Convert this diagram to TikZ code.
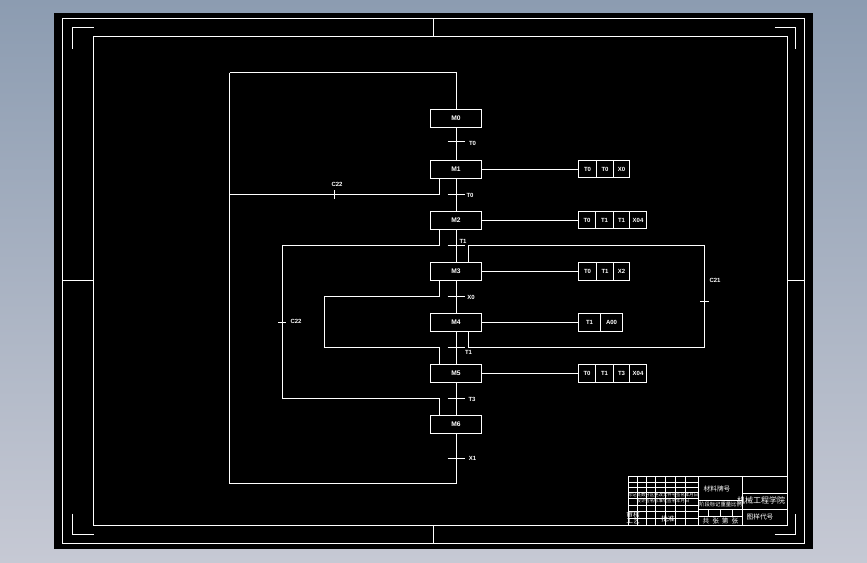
\documentclass[tikz,border=0pt]{standalone}
\usepackage{fontspec}
\setmainfont{Liberation Sans}
\newfontfamily\cjk{Noto Sans CJK SC}
\definecolor{bgtop}{HTML}{8C9CB1}
\definecolor{bgbot}{HTML}{C6C9D4}
\tikzset{
  lin/.style={draw=white,line width=0.75pt},
  stepbox/.style={draw=white,line width=0.75pt,outer sep=0pt,minimum width=38.25pt,minimum height=13.5pt,inner sep=0pt,text=white,font=\bfseries\fontsize{5}{5}\selectfont},
  cell/.style={draw=white,line width=0.75pt,outer sep=0pt,minimum height=12.75pt,inner sep=0pt,text=white,anchor=west,font=\bfseries\fontsize{4.5}{5}\selectfont},
  cw/.style={minimum width=#1*0.75pt},
  lab/.style={text=white,inner sep=0pt,font=\bfseries\fontsize{4.5}{5}\selectfont},
  tb/.style={text=white,inner sep=0pt,font=\cjk\fontsize{5}{5}\selectfont},
  tbs/.style={text=white,inner sep=0pt,font=\cjk\fontsize{3.3}{4}\selectfont},
  tbm/.style={text=white,inner sep=0pt,font=\cjk\fontsize{4}{5}\selectfont},
  tbl/.style={text=white,inner sep=0pt,font=\cjk\fontsize{6}{6}\selectfont}
}
\begin{document}
\begin{tikzpicture}[x=0.75pt,y=-0.75pt]
\useasboundingbox (0,0) rectangle (867,562);
\shade[top color=bgtop,bottom color=bgbot] (0,0) rectangle (867,562);
\fill[black] (54,13) rectangle (813,549);
% frames
\draw[lin] (62.5,18.5) rectangle (804.5,543.5);
\draw[lin] (93.5,36.5) rectangle (787.5,525.5);
\draw[lin] (72.5,48.5) |- (93.5,27.5);
\draw[lin] (774.5,27.5) -| (795.5,48.5);
\draw[lin] (72.5,513.5) |- (93.5,534.5);
\draw[lin] (774.5,534.5) -| (795.5,513.5);
\draw[lin] (433.5,18.5) -- (433.5,36.5);
\draw[lin] (433.5,525.5) -- (433.5,543.5);
\draw[lin] (62.5,280.5) -- (93.5,280.5);
\draw[lin] (787.5,280.5) -- (804.5,280.5);
% step boxes
\node[stepbox] (s0) at (456,118.5) {M0};
\node[stepbox] (s1) at (456,169.5) {M1};
\node[stepbox] (s2) at (456,220.5) {M2};
\node[stepbox] (s3) at (456,271.5) {M3};
\node[stepbox] (s4) at (456,322.5) {M4};
\node[stepbox] (s5) at (456,373.5) {M5};
\node[stepbox] (s6) at (456,424.5) {M6};
% main line
\coordinate (top) at (456.5,72.5);
\coordinate (bot) at (456.5,483.5);
\coordinate (tl) at (229.5,72.5);
\coordinate (bl) at (229.5,483.5);
\draw[lin] (tl) -- (top) -- (s0.north -| top);
\draw[lin] (tl) -- (bl) -- (bot) -- (s6.south -| bot);
\foreach \a/\b in {s0/s1,s1/s2,s2/s3,s3/s4,s4/s5,s5/s6}
  \draw[lin] (\a.south -| top) -- (\b.north -| top);
% left branches
\coordinate (a1) at (439.5,194.5);
\draw[lin] (s1.south -| a1) -- (a1) -- (a1 -| tl);
\coordinate (a2) at (439.5,245.5);
\coordinate (a3) at (282.5,245.5);
\coordinate (a4) at (282.5,398.5);
\coordinate (a5) at (439.5,398.5);
\draw[lin] (s2.south -| a2) -- (a2) -- (a3) -- (a4) -- (a5) -- (s6.north -| a5);
\coordinate (b1) at (439.5,296.5);
\coordinate (b2) at (324.5,296.5);
\coordinate (b3) at (324.5,347.5);
\coordinate (b4) at (439.5,347.5);
\draw[lin] (s3.south -| b1) -- (b1) -- (b2) -- (b3) -- (b4) -- (s5.north -| b4);
% right branch
\coordinate (c1) at (468.5,245.5);
\coordinate (c2) at (704.5,245.5);
\coordinate (c3) at (704.5,347.5);
\coordinate (c4) at (468.5,347.5);
\draw[lin] (s3.north -| c1) -- (c1) -- (c2) -- (c3) -- (c4) -- (s4.south -| c4);
% transition ticks
\foreach \y in {141.5,194.5,245.5,296.5,347.5,398.5,458.5}
  \draw[lin] (447.5,\y) -- (465,\y);
\draw[lin] (334.5,190) -- (334.5,199);
\draw[lin] (278,322.5) -- (286,322.5);
\draw[lin] (700,301.5) -- (709,301.5);
% labels
\node[lab] at (472.5,143) {T0};
\node[lab] at (470,195.5) {T0};
\node[lab] at (463,241) {T1};
\node[lab] at (471,297.5) {X0};
\node[lab] at (468.5,352.5) {T1};
\node[lab] at (472,399) {T3};
\node[lab] at (472.5,458.5) {X1};
\node[lab] at (337,184) {C22};
\node[lab] at (296,321) {C22};
\node[lab] at (715,280) {C21};
% output tables
\node[cell,cw=18] (p1) at (578.5,169) {T0};
\node[cell,cw=17] (p2) at (p1.east) {T0};
\node[cell,cw=16] (p3) at (p2.east) {X0};
\node[cell,cw=17] (q1) at (578.5,220) {T0};
\node[cell,cw=18] (q2) at (q1.east) {T1};
\node[cell,cw=16] (q3) at (q2.east) {T1};
\node[cell,cw=17] (q4) at (q3.east) {X04};
\node[cell,cw=18,minimum height=13.5pt] (r1) at (578.5,271.5) {T0};
\node[cell,cw=17,minimum height=13.5pt] (r2) at (r1.east) {T1};
\node[cell,cw=16,minimum height=13.5pt] (r3) at (r2.east) {X2};
\node[cell,cw=22,minimum height=13.5pt] (u1) at (578.5,322.5) {T1};
\node[cell,cw=22,minimum height=13.5pt] (u2) at (u1.east) {A00};
\node[cell,cw=17,minimum height=13.5pt] (v1) at (578.5,373.5) {T0};
\node[cell,cw=18,minimum height=13.5pt] (v2) at (v1.east) {T1};
\node[cell,cw=16,minimum height=13.5pt] (v3) at (v2.east) {T3};
\node[cell,cw=17,minimum height=13.5pt] (v4) at (v3.east) {X04};
\draw[lin] (s1.east) -- (s1.east -| p1.west);
\draw[lin] (s2.east) -- (s2.east -| q1.west);
\draw[lin] (s3.east) -- (r1.west);
\draw[lin] (s4.east) -- (u1.west);
\draw[lin] (s5.east) -- (v1.west);
% title block
\draw[lin] (628.5,476.5) rectangle (787.5,525.5);
\foreach \x in {637.5,646.5,655.5,665.5,675.5,685.5} \draw[lin] (\x,476.5) -- (\x,525.5);
\draw[lin] (698.5,476.5) -- (698.5,525.5);
\draw[lin] (742.5,476.5) -- (742.5,525.5);
\foreach \y in {482.5,487.5,492.5,498.5,505.5,511.5,518.5} \draw[lin] (628.5,\y) -- (698.5,\y);
\draw[lin] (698.5,509.5) -- (787.5,509.5);
\draw[lin] (742.5,493.5) -- (787.5,493.5);
\draw[lin] (698.5,500.5) -- (742.5,500.5);
\draw[lin] (698.5,516.5) -- (742.5,516.5);
\foreach \x in {708.5,720.5,732.5} \draw[lin] (\x,509.5) -- (\x,516.5);
\node[tb] at (717,489) {材料牌号};
\node[tbs] at (663,495) {标记处数分区更改文件号签名年月日};
\node[tbs] at (663,501) {设计签名标准化签名年月日};
\node[tbm] at (720.5,504.5) {阶段标记重量比例};
\node[tbl] at (761,500) {机械工程学院};
\node[tb] at (760,517) {图样代号};
\node[tb] at (720.5,520.5) {共\ \ 张\ \ 第\ \ 张};
\node[tb] at (633,514.5) {审核};
\node[tb] at (633,520.5) {工艺};
\node[tb] at (668,519) {批准};
\end{tikzpicture}
\end{document}
